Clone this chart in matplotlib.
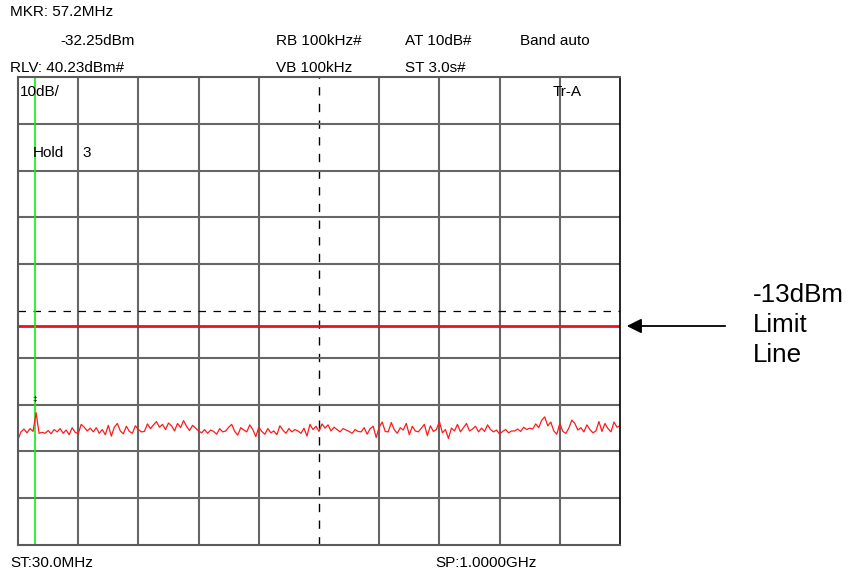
import matplotlib
matplotlib.use("Agg")
import matplotlib.pyplot as plt
import numpy as np

# ---- data ----
start_mhz = 30.0
stop_mhz = 1000.0
ref_level = 40.23          # dBm, top of screen
db_per_div = 10
limit_dbm = -13.0
marker_mhz = 57.2
marker_dbm = -32.25

trace_dbm = [
    -37.2, -35.6, -35.0, -35.8, -34.9, -35.5, -31.5, -35.9, -35.7, -35.9,
    -35.3, -36.0, -35.1, -35.6, -34.9, -35.9, -35.2, -36.2, -34.7, -35.7,
    -36.0, -34.0, -34.6, -35.4, -34.8, -35.6, -34.7, -35.9, -35.1, -36.2,
    -34.2, -36.5, -34.6, -33.8, -35.4, -36.0, -34.4, -35.5, -35.9, -34.3,
    -35.1, -35.6, -35.5, -33.9, -34.9, -34.1, -33.4, -34.6, -34.0, -35.1,
    -33.7, -34.3, -35.4, -33.8, -34.7, -33.2, -34.4, -35.3, -34.2, -34.8,
    -35.4, -35.8, -35.1, -35.9, -35.2, -35.5, -36.1, -34.9, -35.6, -35.4,
    -34.6, -34.0, -35.5, -36.3, -34.7, -35.2, -35.6, -34.1, -35.1, -36.6,
    -34.6, -35.5, -36.1, -34.9, -35.8, -35.4, -36.2, -34.3, -35.2, -35.9,
    -34.9, -35.6, -35.1, -35.4, -35.9, -34.8, -36.5, -34.0, -35.1, -34.4,
    -35.5, -33.9, -34.8, -34.1, -35.4, -34.6, -35.1, -35.6, -34.9, -35.2,
    -35.5, -35.9, -35.1, -35.5, -35.6, -34.7, -36.1, -34.9, -34.4, -36.8,
    -34.6, -33.5, -35.5, -35.6, -33.6, -35.1, -35.9, -34.7, -35.2, -33.8,
    -36.2, -34.4, -35.4, -35.6, -34.8, -34.0, -36.4, -34.3, -35.5, -35.1,
    -33.4, -35.8, -35.1, -37.0, -34.8, -35.4, -34.0, -35.6, -34.7, -33.8,
    -35.4, -35.0, -34.4, -35.6, -34.8, -35.5, -34.1, -35.1, -35.6, -35.2,
    -36.1, -35.5, -35.1, -35.8, -35.4, -35.4, -35.0, -35.5, -34.6, -35.1,
    -34.8, -35.0, -33.9, -34.7, -33.1, -32.4, -34.3, -33.5, -35.4, -36.1,
    -33.8, -35.5, -35.9, -34.8, -33.1, -33.8, -35.2, -34.7, -35.6, -34.1,
    -35.1, -35.8, -35.4, -33.4, -35.5, -33.8, -34.9, -35.6, -33.5, -34.6,
    -34.3,
]

header_texts = [
    ("MKR: 57.2MHz", 10, 12),
    ("-32.25dBm", 60, 41),
    ("RB 100kHz#", 276, 41),
    ("AT 10dB#", 405, 41),
    ("Band auto", 520, 41),
    ("RLV: 40.23dBm#", 10, 68),
    ("VB 100kHz", 276, 68),
    ("ST 3.0s#", 405, 68),
    ("ST:30.0MHz", 10, 563),
    ("SP:1.0000GHz", 435, 563),
]
inner_texts = [
    ("10dB/", 20, 92),
    ("Tr-A", 553, 92),
    ("Hold", 33, 153),
    ("3", 82, 153),
]
limit_label = ["-13dBm", "Limit", "Line"]

# ---- figure ----
W, H = 855, 575
fig = plt.figure(figsize=(W / 100, H / 100), dpi=100)
plt.rcParams['font.family'] = ['Liberation Sans', 'DejaVu Sans']

left, right, top, bottom = 18, 620, 77, 545
ax = fig.add_axes([left / W, 1 - bottom / H, (right - left) / W, (bottom - top) / H])

y_top = ref_level
y_bot = ref_level - 10 * db_per_div
ax.set_xlim(start_mhz, stop_mhz)
ax.set_ylim(y_bot, y_top)
ax.set_xticks([])
ax.set_yticks([])
for s in ax.spines.values():
    s.set_color('#5a5a5a')
    s.set_linewidth(1.5)
ax.spines['right'].set_color('black')
ax.spines['right'].set_linewidth(1.2)

grid_color = '#666666'
xdiv = np.linspace(start_mhz, stop_mhz, 11)
ydiv = np.linspace(y_bot, y_top, 11)
for i, xv in enumerate(xdiv[1:-1], start=1):
    if i == 5:
        ax.axvline(xv, color='black', lw=1.0, ls=(0, (6, 6)))
    else:
        ax.axvline(xv, color=grid_color, lw=1.5)
for i, yv in enumerate(ydiv[1:-1], start=1):
    if i == 5:
        ax.axhline(yv, color='black', lw=0.9, ls=(0, (6, 6)))
    else:
        ax.axhline(yv, color=grid_color, lw=1.5)

# limit line
ax.axhline(limit_dbm, color='#e8141c', lw=2.0)

# marker line
ax.axvline(marker_mhz, color='#11ee11', lw=1.2)

# trace
freqs = np.linspace(start_mhz, stop_mhz, len(trace_dbm))
ax.plot(freqs, trace_dbm, color='#ff1a1a', lw=0.9)

# marker symbol
ax.text(marker_mhz, marker_dbm + 3.6, "\u2021", fontsize=6, ha='center', va='center', color='black')

fs = 11
for t, x, y in header_texts + inner_texts:
    fig.text(x / W, 1 - y / H, t, fontsize=fs, ha='left', va='center', color='black')

for k, t in enumerate(limit_label):
    fig.text(753 / W, 1 - (295 + k * 30) / H, t, fontsize=18.7, ha='left', va='center', color='black')

# arrow
fig.add_artist(matplotlib.patches.FancyArrowPatch(
    (728 / W, 1 - 326 / H), (624 / W, 1 - 326 / H),
    transform=fig.transFigure, arrowstyle='-|>', mutation_scale=22,
    color='black', lw=1.3))

fig.savefig("out.png", dpi=100)
